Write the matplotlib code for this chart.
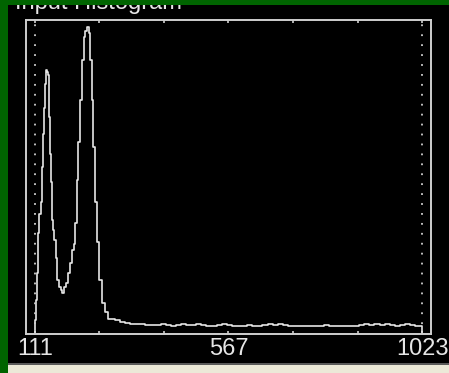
import matplotlib

matplotlib.use("Agg")
import matplotlib.pyplot as plt
from matplotlib.patches import Rectangle

W, H = 449, 373

# histogram around the two peaks (bin value, count)
peak_bins = [111, 112, 113, 116, 118, 121, 125, 127, 130, 132, 135, 137, 140, 142, 144,
             147, 149, 151, 154, 156, 160, 163, 168, 172, 175, 179, 184, 189, 193, 198,
             203, 205, 210, 212, 217, 222, 226, 230, 234, 238, 241, 245, 248, 252, 257,
             262, 269, 276, 283, 292, 300, 311, 323, 335]
peak_counts = [0, 14, 34, 61, 101, 120, 132, 167, 200, 226, 250, 264, 262, 259, 217,
               180, 152, 114, 104, 94, 76, 54, 47, 44, 41, 47, 51, 61, 71, 84,
               90, 111, 154, 192, 234, 274, 297, 303, 307, 301, 274, 234, 187, 132, 92,
               54, 31, 22, 15, 15, 14, 12, 11, 10]

# flat tail of the histogram
tail_bins = [347, 359, 371, 383, 395, 407, 419, 431, 443, 455, 467, 479, 491, 503, 515,
             527, 539, 551, 563, 575, 587, 599, 611, 623, 635, 647, 659, 671, 683, 695,
             707, 719, 731, 743, 755, 767, 779, 791, 803, 815, 827, 839, 851, 863, 875,
             887, 899, 911, 923, 935, 947, 959, 971, 983, 995, 1007, 1019, 1023]
tail_counts = [10, 10, 9, 9, 9, 10, 9, 8, 9, 10, 9, 9, 10, 9, 8,
               8, 9, 10, 9, 8, 8, 8, 9, 8, 8, 9, 10, 9, 10, 9,
               8, 8, 8, 8, 8, 8, 8, 9, 8, 8, 8, 8, 8, 8, 9,
               10, 9, 10, 9, 10, 9, 8, 9, 10, 9, 8, 8, 0]

tick_values = [111, 263, 415, 567, 719, 871, 1023]
tick_labels = ["111", "", "", "567", "", "", "1023"]
title = "Input Histogram"

FG = "#e6e6e6"
FRAME = "#cfcfcf"

plt.rcParams["font.family"] = ["Liberation Sans", "DejaVu Sans"]

fig = plt.figure(figsize=(W / 100, H / 100), dpi=100, facecolor="black")


def px_rect(x0, y0, x1, y1, color, z=10):
    # rectangle given in pixel coords, origin at top-left
    fig.patches.append(Rectangle((x0 / W, 1 - y1 / H), (x1 - x0) / W, (y1 - y0) / H,
                                 transform=fig.transFigure, facecolor=color,
                                 edgecolor="none", zorder=z))


ax = fig.add_axes([26 / W, (H - 334) / H, (431 - 26) / W, (334 - 20) / H])
ax.set_facecolor("black")

ax.step(peak_bins + tail_bins, peak_counts + tail_counts, where="post",
        color=FG, lw=1.2)

for v in (tick_values[0], tick_values[-1]):
    ax.axvline(v, color=FRAME, lw=1.3, dashes=(1, 4.5))

ax.set_xlim(89.8, 1044.2)
ax.set_ylim(0, 314)
ax.set_yticks([])
ax.set_xticks(tick_values)
ax.set_xticklabels(tick_labels)
ax.tick_params(axis="x", direction="in", top=True, length=2.5, width=1.2,
               color=FRAME, labelcolor=FG, labelsize=17, pad=3)
for s in ax.spines.values():
    s.set_color(FRAME)
    s.set_linewidth(1.4)

fig.text(15 / W, 1 - 9 / H, title, color=FG, fontsize=17, va="baseline",
         ha="left", zorder=5)

# window chrome
px_rect(0, 0, W, 5, "#006400")
px_rect(0, 0, 8, H, "#006400")
px_rect(8, 363, W, 365, "#5a5a5a")
px_rect(8, 365, W, H, "#ece9d8")

fig.savefig("out.png", dpi=100, facecolor="black")
